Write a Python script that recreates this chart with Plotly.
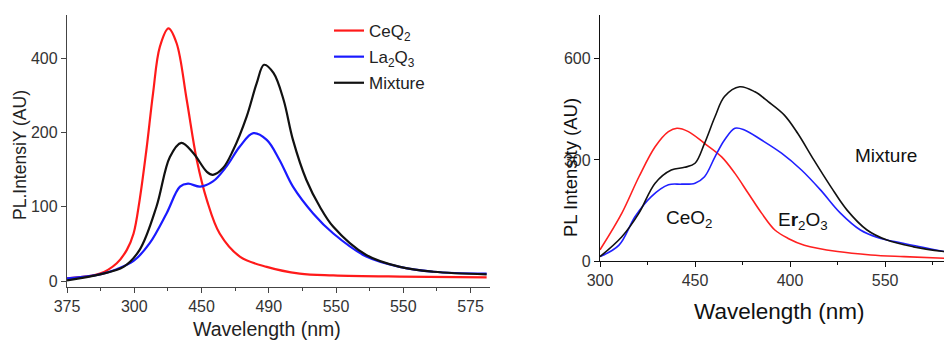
import plotly.graph_objects as go

# ---------------- Left panel data ----------------
left_tickvals_x = [375, 425, 475, 525, 575, 625, 675]
left_ticktext_x = ["375", "300", "450", "490", "550", "550", "575"]
left_tickvals_y = [0, 100, 200, 300]
left_ticktext_y = ["0", "100", "200", "400"]

ceo2_x = [375, 399.5, 412, 419.5, 424.5, 429, 434, 439, 444, 450.5, 456.5, 464, 471.5, 479,
          488.5, 503.5, 523.5, 548, 573, 622.5, 687]
ceo2_y = [3.6, 10, 24, 42, 64, 109, 176, 253, 315, 340, 320, 244, 163, 109, 64, 33, 19, 10,
          7.6, 6, 5]

la2o3_x = [375, 399.5, 412, 424.5, 436.5, 449, 459, 465, 474, 483.5, 493.5, 503.5, 513.5,
           523.5, 533, 543, 558, 573, 597.5, 622.5, 647.5, 687]
la2o3_y = [3.6, 9, 16, 27, 51, 91, 127, 131, 127, 134, 154, 181, 199, 190, 163, 127, 91, 64,
           33, 19, 12.5, 10]

mixL_x = [375, 399.5, 417, 429, 441.5, 451.5, 460, 469, 479, 483.5, 491, 498.5, 508.5, 516,
          521.5, 528.5, 536, 543, 553, 563, 573, 597.5, 622.5, 647.5, 687]
mixL_y = [1, 9, 19, 42, 100, 167, 186, 172, 147, 143, 152, 176, 221, 266, 291, 280, 244, 190,
          136, 100, 73, 35, 19, 12.5, 9]

# ---------------- Right panel data ----------------
right_tickvals_x = [300, 350, 400, 450]
right_ticktext_x = ["300", "450", "400", "550"]
right_tickvals_y = [0, 300, 600]
right_ticktext_y = ["0", "300", "600"]

ceR_x = [300, 311.5, 320.5, 329, 336, 340.5, 346.5, 355, 364, 371, 378, 385, 392, 399, 407.5,
         425, 442.5, 460, 481]
ceR_y = [33, 142, 250, 339, 384, 394, 384, 349, 309, 260, 201, 142, 92, 67, 47, 28, 18, 13, 8]

erR_x = [300, 310, 318.5, 327, 336, 343, 350, 355, 360.5, 365.5, 371, 376, 385, 395.5, 406,
         416, 426.5, 437, 446, 460, 481]
erR_y = [13, 47, 132, 191, 226, 228, 231, 250, 309, 359, 394, 389, 359, 320, 270, 211, 142,
         92, 70, 52, 28]

mixR_x = [300, 311.5, 320.5, 329, 337.5, 344.5, 350, 355, 360.5, 365.5, 373.5, 381.5, 388.5,
          397, 404, 412.5, 421.5, 430, 440.5, 451, 465, 481]
mixR_y = [13, 72, 142, 231, 270, 278, 290, 349, 428, 488, 517, 502, 473, 433, 379, 300, 220,
          151, 92, 62, 42, 28]

FONT = "Liberation Sans, Arial, sans-serif"
W, H = 944, 340

fig = go.Figure()

# left traces
fig.add_trace(go.Scatter(x=ceo2_x, y=ceo2_y, mode="lines", name="CeQ<sub>2</sub>",
                         line=dict(color="#ff1a1a", width=2.2, shape="spline"),
                         legendgroup="a", xaxis="x", yaxis="y"))
fig.add_trace(go.Scatter(x=la2o3_x, y=la2o3_y, mode="lines", name="La<sub>2</sub>Q<sub>3</sub>",
                         line=dict(color="#1a1aff", width=2.2, shape="spline"),
                         legendgroup="b", xaxis="x", yaxis="y"))
fig.add_trace(go.Scatter(x=mixL_x, y=mixL_y, mode="lines", name="Mixture",
                         line=dict(color="#111111", width=2.2, shape="spline"),
                         legendgroup="c", xaxis="x", yaxis="y"))

# right traces
fig.add_trace(go.Scatter(x=ceR_x, y=ceR_y, mode="lines", showlegend=False,
                         line=dict(color="#ff2020", width=1.6, shape="spline"),
                         xaxis="x2", yaxis="y2"))
fig.add_trace(go.Scatter(x=erR_x, y=erR_y, mode="lines", showlegend=False,
                         line=dict(color="#2020ff", width=1.6, shape="spline"),
                         xaxis="x2", yaxis="y2"))
fig.add_trace(go.Scatter(x=mixR_x, y=mixR_y, mode="lines", showlegend=False,
                         line=dict(color="#111111", width=1.6, shape="spline"),
                         xaxis="x2", yaxis="y2"))

def px_x(p):
    return p / W

def px_y(p):
    return 1 - p / H

axis_common = dict(showgrid=False, zeroline=False, showline=True, ticks="outside",
                   ticklen=5, tickwidth=1.2, linewidth=1.4, automargin=False,
                   tickfont=dict(family=FONT, size=16, color="#333333"))

fig.update_layout(
    width=W, height=H,
    margin=dict(l=0, r=0, t=0, b=0, pad=0),
    paper_bgcolor="white", plot_bgcolor="white",
    showlegend=True,
    legend=dict(x=px_x(329), y=px_y(13), xanchor="left", yanchor="top",
                font=dict(family=FONT, size=17, color="#222222"),
                bgcolor="rgba(0,0,0,0)", tracegroupgap=1, itemwidth=30),
    xaxis=dict(domain=[px_x(67), px_x(490)], range=[375, 689.5], anchor="y",
               tickmode="array", tickvals=left_tickvals_x, ticktext=left_ticktext_x,
               linecolor="#444444", tickcolor="#444444",
               minor=dict(ticks="outside", ticklen=3, tickmode="linear", tick0=375, dtick=25,
                          tickcolor="#444444"),
               **axis_common),
    yaxis=dict(domain=[px_y(287), px_y(15)], range=[-8, 358], anchor="x",
               tickmode="array", tickvals=left_tickvals_y, ticktext=left_ticktext_y,
               linecolor="#444444", tickcolor="#444444",
               **axis_common),
    xaxis2=dict(domain=[px_x(600), 1.0], range=[300, 481], anchor="y2",
                tickmode="array", tickvals=right_tickvals_x, ticktext=right_ticktext_x,
                linecolor="#111111", tickcolor="#111111",
                minor=dict(ticks="outside", ticklen=3, tickmode="linear", tick0=300, dtick=25,
                           tickcolor="#111111"),
                **axis_common),
    yaxis2=dict(domain=[px_y(261), px_y(15)], range=[0, 730], anchor="x2",
                tickmode="array", tickvals=right_tickvals_y, ticktext=right_ticktext_y,
                linecolor="#111111", tickcolor="#111111",
                **axis_common),
)

def ann(text, x, y, xref="paper", yref="paper", size=19, color="#111111", angle=0):
    return dict(text=text, x=x, y=y, xref=xref, yref=yref, showarrow=False,
                xanchor="center", yanchor="middle", textangle=angle,
                font=dict(family=FONT, size=size, color=color))

annots = [
    # axis titles
    ann("Wavelength (nm)", px_x(267), px_y(329), size=19.5, color="#222222"),
    ann("PL.IntensiY (AU)", px_x(20), px_y(155), size=17.5, color="#222222", angle=-90),
    ann("Wavelength (nm)", px_x(779), px_y(311), size=22.5),
    ann("PL Intensity (AU)", px_x(570), px_y(168), size=18.5, angle=-90),
    # curve labels (right panel)
    ann("Mixture", 450.5, 312, "x2", "y2", size=19),
    ann("CeO<sub>2</sub>", 347, 126, "x2", "y2", size=19),
    ann("E<b>r</b><sub>2</sub>O<sub>3</sub>", 407, 120, "x2", "y2", size=19),
]
fig.update_layout(annotations=annots)

fig.write_html("out.html")
